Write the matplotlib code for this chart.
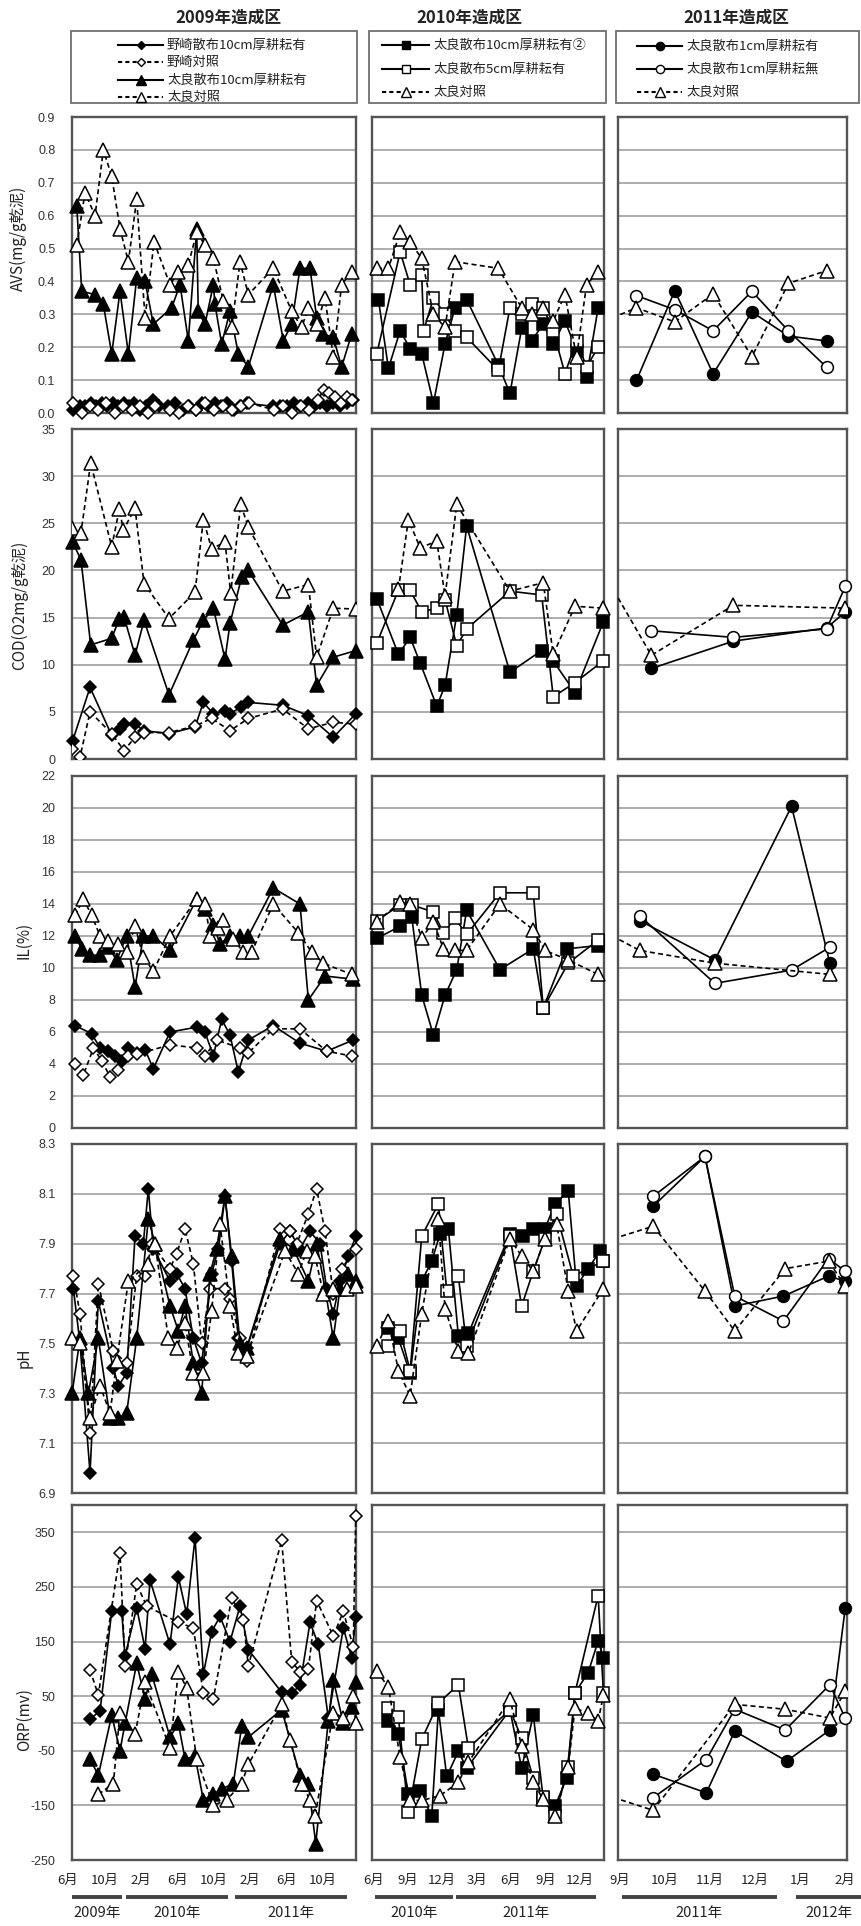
import matplotlib
matplotlib.use("Agg")
import matplotlib.pyplot as plt
from matplotlib.transforms import blended_transform_factory
from matplotlib.patches import Rectangle

plt.rcParams['font.family'] = ['Noto Sans CJK JP', 'DejaVu Sans']

# x は 2009年1月=0 とした月数（小数部分は月内の日付）
# ---------------- AVS (mg/g乾泥) ----------------
avs_nozaki = [(5.6,0.01),(6.3,0.02),(6.9,0.02),(7.5,0.03),(8.1,0.02),(8.7,0.03),(9.3,0.02),(9.9,0.03),
              (10.5,0.02),(11.1,0.03),(11.7,0.02),(12.3,0.03),(12.9,0.01),(13.6,0.02),(14.3,0.04),(15.0,0.02),
              (16.0,0.02),(16.8,0.03),(17.6,0.01),(18.3,0.02),(19.0,0.01),(19.7,0.03),(20.4,0.02),(21.1,0.03),
              (21.8,0.02),(22.5,0.03),(23.2,0.01),(23.9,0.02),(24.6,0.03),(27.5,0.02),(28.3,0.02),(29.0,0.02),
              (29.8,0.03),(30.5,0.02),(31.3,0.03),(32.0,0.02),(32.7,0.03),(33.4,0.02),(34.1,0.03),(34.9,0.02),
              (35.6,0.03),(36.3,0.04)]
avs_nozaki_ctrl = [(5.6,0.03),(6.5,0.0),(7.4,0.02),(8.3,0.01),(9.2,0.03),(10.2,0.0),(11.0,0.02),(12.0,0.01),
                   (12.9,0.02),(13.8,0.0),(14.6,0.02),(16.2,0.01),(17.2,0.0),(18.2,0.02),(19.1,0.01),(20.0,0.03),
                   (21.0,0.01),(22.0,0.02),(23.0,0.01),(24.0,0.02),(24.9,0.03),(27.6,0.01),(28.6,0.02),(29.6,0.0),
                   (30.6,0.02),(31.5,0.01),(32.4,0.04),(33.1,0.07),(33.7,0.06),(34.3,0.05),(35.0,0.03),(35.6,0.05),
                   (36.2,0.04)]
avs_tara10 = [(5.96,0.63),(6.51,0.37),(7.97,0.36),(8.88,0.33),(9.80,0.18),(10.71,0.37),(11.63,0.18),(12.54,0.41),
              (13.46,0.40),(14.37,0.27),(16.38,0.32),(17.30,0.39),(18.21,0.22),(19.13,0.56),(19.30,0.31),(20.04,0.27),
              (20.96,0.39),(21.14,0.33),(21.87,0.21),(22.79,0.31),(23.70,0.18),(24.80,0.14),(27.54,0.39),(28.64,0.22),
              (29.56,0.27),(30.47,0.44),(31.57,0.44),(32.30,0.29),(33.03,0.24),(34.13,0.23),(35.04,0.14),(36.14,0.24)]
avs_tara_ctrl09 = [(5.96,0.51),(6.87,0.67),(7.97,0.60),(8.88,0.80),(9.80,0.72),(10.71,0.56),(11.63,0.46),(12.54,0.65),
                   (13.46,0.29),(14.45,0.52),(16.20,0.39),(17.12,0.43),(18.21,0.45),(19.13,0.55),(20.04,0.51),(20.96,0.47),
                   (22.06,0.34),(22.97,0.26),(23.89,0.46),(24.80,0.36),(27.54,0.44),(29.56,0.31),(30.65,0.26),(31.39,0.32),
                   (32.30,0.27),(33.22,0.35),(34.13,0.17),(35.04,0.39),(36.14,0.43)]
avs_tara10b = [(17.46,0.345),(18.33,0.136),(19.35,0.25),(20.22,0.196),(21.23,0.18),(22.25,0.03),(23.26,0.21),(24.13,0.32),
               (25.14,0.345),(27.9,0.146),(28.91,0.06),(29.93,0.257),(30.8,0.22),(31.81,0.27),(32.68,0.21),(33.7,0.28),
               (34.71,0.19),(35.58,0.11),(36.59,0.32)]
avs_tara5 = [(17.32,0.18),(19.35,0.49),(20.22,0.39),(21.23,0.42),(21.4,0.25),(22.25,0.35),(23.26,0.30),(24.13,0.25),
             (25.14,0.23),(27.9,0.13),(28.91,0.32),(29.93,0.30),(30.8,0.33),(31.81,0.32),(32.68,0.25),(33.7,0.12),
             (34.71,0.22),(35.58,0.14),(36.59,0.20)]
avs_tara_ctrl10 = [(17.32,0.44),(18.33,0.44),(19.35,0.55),(20.22,0.52),(21.23,0.47),(22.25,0.30),(23.26,0.26),(24.13,0.46),
                   (27.9,0.44),(29.93,0.32),(30.8,0.30),(31.81,0.32),(32.68,0.28),(33.7,0.36),(34.71,0.17),(35.58,0.39),
                   (36.59,0.43)]
avs_tara1 = [(32.37,0.099),(33.22,0.372),(34.07,0.119),(34.93,0.307),(35.74,0.234),(36.59,0.219)]
avs_tara1n = [(32.37,0.357),(33.22,0.314),(34.07,0.25),(34.93,0.37),(35.74,0.25),(36.59,0.139)]
avs_tara_ctrl11 = [(31.5,0.27),(32.37,0.32),(33.22,0.277),(34.07,0.362),(34.93,0.171),(35.74,0.394),(36.59,0.433)]

# ---------------- COD (O2mg/g乾泥) ----------------
cod_nozaki = [(5.52,1.95),(7.42,7.6),(9.80,2.5),(10.71,3.2),(11.15,3.7),(12.36,3.7),(13.35,3.0),(16.09,2.7),
              (18.95,3.4),(19.86,6.0),(20.96,4.8),(22.24,5.1),(22.79,4.8),(23.96,5.5),(24.80,6.0),(28.57,5.7),
              (31.39,4.6),(34.13,2.3),(36.6,4.8)]
cod_nozaki_ctrl = [(5.41,1.1),(6.32,0.2),(7.42,5.0),(9.80,2.7),(11.15,0.9),(12.36,2.3),(13.35,2.8),(16.09,2.8),
                   (18.95,3.5),(20.77,4.3),(22.79,3.0),(24.80,4.3),(28.57,5.3),(31.39,3.2),(34.13,3.9),(36.6,3.7)]
cod_tara10 = [(5.52,23.0),(6.43,21.1),(7.49,12.1),(9.80,12.8),(10.64,14.9),(11.15,15.1),(12.36,11.0),(13.35,14.7),
              (16.09,6.8),(18.76,12.6),(19.86,14.7),(20.96,16.0),(22.24,10.6),(22.79,14.4),(24.07,19.3),(24.80,20.0),
              (28.57,14.2),(31.39,15.6),(32.30,7.8),(34.13,10.8),(36.6,11.5)]
cod_tara_ctrl09 = [(5.41,24.5),(6.43,24.0),(7.49,31.4),(9.80,22.5),(10.64,26.5),(11.08,24.3),(12.36,26.6),(13.35,18.6),
                   (16.09,14.9),(18.95,17.7),(19.86,25.4),(20.77,22.3),(22.24,23.0),(22.86,17.6),(23.96,27.0),(24.80,24.6),
                   (28.57,17.8),(31.39,18.5),(32.30,10.8),(34.13,16.0),(36.6,15.9)]
cod_tara10b = [(17.32,17.0),(19.2,11.1),(20.22,12.9),(21.09,10.2),(22.54,5.6),(23.26,7.8),(24.28,15.3),(25.14,24.7),
               (28.91,9.2),(31.67,11.5),(32.68,10.4),(34.57,7.05),(37.03,14.5)]
cod_tara5 = [(17.32,12.3),(19.2,17.9),(20.22,17.9),(21.23,15.6),(22.54,16.0),(23.26,16.9),(24.28,12.0),(25.14,13.8),
             (28.91,17.8),(31.67,17.4),(32.68,6.6),(34.57,8.1),(37.03,10.4)]
cod_tara_ctrl10 = [(19.2,18.0),(20.07,25.4),(21.09,22.4),(22.54,23.1),(23.26,17.3),(24.28,27.0),(28.91,17.8),(31.81,18.7),
                   (32.68,11.1),(34.57,16.2),(37.03,16.0)]
cod_tara1 = [(32.7,9.6),(34.52,12.5),(36.59,13.9),(37.0,15.6)]
cod_tara1n = [(32.7,13.6),(34.52,12.9),(36.59,13.8),(37.0,18.3)]
cod_tara_ctrl11 = [(31.5,20.9),(32.7,11.0),(34.52,16.3),(37.0,16.0)]

# ---------------- IL (%) ----------------
il_nozaki = [(5.77,6.4),(7.60,5.9),(8.52,5.0),(9.43,4.8),(10.16,4.5),(10.90,4.2),(11.63,5.0),(12.54,4.7),(13.46,4.9),
             (14.37,3.7),(16.20,6.0),(19.13,6.3),(20.04,6.0),(20.96,4.5),(21.87,6.8),(22.79,5.8),(23.70,3.5),(24.80,5.5),
             (27.54,6.4),(30.47,5.3),(33.40,4.8),(36.32,5.5)]
il_nozaki_ctrl = [(5.77,4.0),(6.69,3.3),(7.79,5.0),(8.70,4.2),(9.62,3.2),(10.53,3.6),(11.63,4.5),(12.54,4.6),(16.20,5.2),
                  (19.13,5.0),(20.04,4.5),(21.32,5.5),(23.89,5.0),(24.80,4.7),(27.54,6.2),(30.47,6.2),(33.40,4.8),(36.14,4.5)]
il_tara10 = [(5.77,12.0),(6.51,11.2),(7.42,10.8),(8.52,10.8),(9.43,11.3),(10.35,10.5),(11.44,12.0),(12.36,8.8),(13.27,12.0),
             (14.37,12.0),(16.20,11.1),(19.13,14.3),(20.04,13.7),(20.96,12.7),(21.69,11.5),(22.79,12.0),(23.89,12.0),
             (24.80,12.0),(27.54,15.0),(30.47,14.0),(31.39,8.0),(33.22,9.5),(36.32,9.3)]
il_tara_ctrl09 = [(5.77,13.3),(6.69,14.3),(7.60,13.3),(8.52,12.0),(9.43,11.7),(10.53,11.5),(11.44,11.0),(12.36,12.6),
                  (13.27,10.7),(14.37,9.8),(16.20,12.0),(19.13,14.3),(20.04,14.0),(20.59,12.0),(21.51,12.5),(22.06,13.0),
                  (23.15,11.8),(24.25,11.0),(25.17,11.0),(27.54,14.0),(30.29,12.2),(31.75,11.0),(33.03,10.3),(36.14,9.6)]
il_tara10b = [(17.32,11.86),(19.35,12.6),(20.36,13.2),(21.23,8.3),(22.25,5.8),(23.26,8.3),(24.28,9.9),(25.14,13.6),
              (28.04,9.9),(30.94,11.2),(31.81,7.5),(33.84,11.2),(36.59,11.4)]
il_tara5 = [(17.32,12.96),(19.35,13.94),(20.36,13.94),(22.25,13.5),(23.12,12.2),(24.13,13.1),(25.14,12.1),(28.04,14.7),
            (30.94,14.7),(31.81,7.5),(33.99,10.3),(36.59,11.75)]
il_tara_ctrl10 = [(17.32,12.9),(19.35,14.1),(20.22,14.0),(21.23,11.86),(22.25,12.9),(23.12,11.2),(24.13,11.1),(25.14,11.1),
                  (28.04,14.0),(30.94,12.4),(31.96,11.1),(33.99,10.5),(36.59,9.6)]
il_tara1 = [(32.44,12.96),(34.11,10.5),(35.81,20.1),(36.66,10.3)]
il_tara1n = [(32.44,13.26),(34.11,9.04),(35.81,9.87),(36.66,11.3)]
il_tara_ctrl11 = [(31.5,12.5),(32.44,11.1),(34.11,10.3),(36.66,9.6)]

# ---------------- pH ----------------
ph_nozaki = [(5.59,7.72),(6.32,7.5),(7.42,6.98),(8.33,7.67),(9.98,7.4),(10.53,7.33),(11.44,7.38),(12.36,7.93),(13.27,7.9),
             (13.82,8.12),(14.37,7.88),(16.20,7.75),(16.93,7.78),(17.85,7.72),(18.76,7.52),(19.68,7.42),(20.77,7.78),
             (21.51,7.88),(22.24,8.09),(22.97,7.83),(23.70,7.52),(24.62,7.48),(28.28,7.9),(29.37,7.95),(30.47,7.88),
             (31.57,7.95),(32.67,7.9),(33.40,7.72),(34.13,7.62),(34.86,7.75),(35.78,7.85),(36.6,7.93)]
ph_nozaki_ctrl = [(5.59,7.77),(6.32,7.62),(7.42,7.14),(8.33,7.74),(9.98,7.47),(11.44,7.42),(12.54,7.77),(13.46,7.77),
                  (14.19,7.9),(16.20,7.8),(16.93,7.86),(17.85,7.96),(18.76,7.82),(19.68,7.5),(20.59,7.72),(22.24,7.72),
                  (22.79,7.68),(23.89,7.52),(24.62,7.43),(28.28,7.96),(29.37,7.95),(30.11,7.9),(31.39,8.02),(32.30,8.12),
                  (33.22,7.95),(34.13,7.7),(35.04,7.8),(36.6,7.88)]
ph_tara10 = [(5.45,7.3),(6.32,7.52),(7.24,7.3),(8.33,7.52),(9.62,7.2),(10.53,7.2),(11.44,7.22),(12.54,7.52),(13.82,8.0),
             (14.56,7.9),(16.20,7.65),(17.12,7.55),(17.85,7.65),(18.76,7.42),(19.68,7.3),(20.59,7.78),(21.32,7.88),
             (22.24,8.09),(22.97,7.85),(23.89,7.5),(24.62,7.48),(28.28,7.92),(29.74,7.88),(31.39,7.75),(32.30,7.9),
             (33.22,7.72),(34.13,7.52),(34.86,7.72),(35.78,7.78),(36.6,7.75)]
ph_tara_ctrl09 = [(5.45,7.52),(6.32,7.5),(7.42,7.2),(8.52,7.33),(9.62,7.22),(10.35,7.43),(11.63,7.75),(13.82,7.82),
                  (14.56,7.9),(16.02,7.52),(16.93,7.48),(17.85,7.58),(18.76,7.38),(19.86,7.38),(20.77,7.63),(21.69,7.98),
                  (22.79,7.65),(23.70,7.46),(24.62,7.45),(28.83,7.87),(30.29,7.78),(31.20,7.87),(32.12,7.85),(33.03,7.7),
                  (34.13,7.72),(35.59,7.72),(36.6,7.73)]
ph_tara10b = [(18.33,7.56),(19.2,7.52),(20.22,7.38),(21.23,7.75),(22.1,7.83),(22.83,7.94),(23.55,7.96),(24.42,7.53),
              (25.29,7.54),(28.91,7.94),(30.07,7.93),(30.94,7.96),(31.96,7.96),(32.83,8.06),(33.99,8.11),(34.71,7.73),
              (35.72,7.8),(36.74,7.87),(37.05,7.83)]
ph_tara5 = [(18.33,7.49),(19.35,7.55),(20.22,7.39),(21.23,7.93),(22.68,8.06),(23.41,7.71),(24.42,7.77),(25.14,7.49),
            (28.91,7.93),(29.93,7.65),(30.94,7.79),(31.96,7.92),(32.97,8.02),(34.42,7.77),(37.05,7.83)]
ph_tara_ctrl10 = [(17.32,7.49),(18.33,7.59),(19.2,7.39),(20.22,7.29),(21.23,7.62),(22.68,8.0),(23.26,7.64),(24.42,7.47),
                  (25.29,7.46),(28.91,7.92),(29.93,7.85),(30.94,7.79),(31.96,7.92),(32.97,7.98),(33.99,7.71),(34.71,7.55),
                  (37.05,7.72)]
ph_tara1 = [(32.74,8.05),(33.89,8.25),(34.55,7.65),(35.63,7.69),(36.63,7.77),(37.0,7.75)]
ph_tara1n = [(32.74,8.09),(33.89,8.25),(34.55,7.69),(35.63,7.59),(36.63,7.84),(37.0,7.79)]
ph_tara_ctrl11 = [(31.5,7.9),(32.74,7.97),(33.89,7.71),(34.55,7.55),(35.67,7.8),(36.63,7.83),(37.0,7.73)]

# ---------------- ORP (mv) ----------------
orp_nozaki = [(7.42,8),(8.52,23),(9.80,205),(10.90,205),(11.26,123),(12.54,212),(13.46,137),(14.01,262),(16.20,145),
              (17.12,268),(18.03,200),(18.95,340),(19.86,90),(20.77,168),(21.69,196),(22.79,150),(23.89,215),(24.80,135),
              (28.46,57),(29.56,55),(30.47,70),(31.57,185),(32.48,145),(33.58,10),(35.23,175),(36.14,120),(36.6,195)]
orp_nozaki_ctrl = [(7.42,98),(8.33,52),(10.71,312),(11.26,105),(12.54,255),(13.64,215),(17.12,185),(18.76,175),(19.86,55),
                   (20.96,45),(22.97,230),(24.25,190),(24.80,105),(28.46,335),(29.56,113),(30.47,95),(31.39,100),
                   (32.30,225),(34.13,160),(35.23,205),(36.32,140),(36.6,380)]
orp_tara10 = [(7.42,-65),(8.33,-95),(9.80,15),(10.71,-50),(11.26,0),(12.54,110),(13.46,45),(14.19,90),(16.20,-25),
              (17.12,0),(17.85,-65),(18.95,-60),(19.86,-140),(20.96,-130),(21.87,-120),(23.15,-110),(24.07,-5),
              (24.80,-25),(28.46,25),(30.47,-95),(31.39,-110),(32.2,-220),(33.58,5),(34.13,80),(35.23,0),(36.14,30),
              (36.6,75)]
orp_tara_ctrl09 = [(8.33,-130),(9.98,-110),(10.71,20),(12.36,-20),(13.46,75),(16.20,-45),(17.12,95),(18.03,65),
                   (19.13,-65),(20.96,-150),(22.42,-140),(24.07,-110),(24.80,-75),(28.46,35),(29.37,-30),(30.65,-110),
                   (31.57,-140),(32.12,-170),(34.13,20),(35.23,10),(36.32,50),(36.6,0)]
orp_tara10b = [(18.33,4),(19.2,-20),(20.07,-130),(21.09,-124),(22.1,-170),(22.68,25),(23.41,-97),(24.42,-51),(25.14,-82),
               (28.91,25),(29.93,-82),(30.94,16),(31.81,-137),(32.83,-152),(33.84,-100),(34.57,56),(35.72,93),
               (36.59,151),(37.05,120)]
orp_tara5 = [(18.33,29),(19.2,11),(20.07,-163),(21.23,-29),(22.68,37),(24.42,71),(25.29,-45),(28.91,25),(29.93,-27),
             (30.94,-100),(31.81,-134),(32.83,-170),(33.99,-79),(34.57,56),(36.59,234),(37.05,56)]
orp_tara_ctrl10 = [(17.32,96),(18.33,66),(19.35,-62),(20.22,-141),(21.23,-141),(22.83,-132),(24.42,-108),(25.29,-71),
                   (28.91,44),(29.93,-41),(30.94,-108),(31.81,-139),(32.83,-170),(33.99,-79),(34.57,28),(35.72,19),
                   (36.59,4),(37.05,53)]
orp_tara1 = [(32.74,-93),(33.92,-127),(34.55,-14),(35.7,-69),(36.66,-12),(37.0,211)]
orp_tara1n = [(32.74,-136),(33.92,-66),(34.55,26),(35.67,-12),(36.66,71),(37.0,10)]
orp_tara_ctrl11 = [(31.5,-126),(32.74,-159),(34.55,35),(35.67,26),(36.66,10),(37.0,59)]

# ---------------- ラベル ----------------
col_titles = ['2009年造成区', '2010年造成区', '2011年造成区']
legend_names = [
    ['野崎散布10cm厚耕耘有', '野崎対照', '太良散布10cm厚耕耘有', '太良対照'],
    ['太良散布10cm厚耕耘有②', '太良散布5cm厚耕耘有', '太良対照'],
    ['太良散布1cm厚耕耘有', '太良散布1cm厚耕耘無', '太良対照'],
]
ylabels = ['AVS(mg/g乾泥)', 'COD(O2mg/g乾泥)', 'IL(%)', 'pH', 'ORP(mv)']
month_pos = [[5, 9, 13, 17, 21, 25, 29, 33], [17, 20, 23, 26, 29, 32, 35], [32, 33, 34, 35, 36, 37]]
month_lab = [['6月', '10月', '2月', '6月', '10月', '2月', '6月', '10月'],
             ['6月', '9月', '12月', '3月', '6月', '9月', '12月'],
             ['9月', '10月', '11月', '12月', '1月', '2月']]
year_spans = [[('2009年', 5.44, 10.93), ('2010年', 11.37, 22.57), ('2011年', 23.34, 35.63)],
              [('2010年', 17.17, 23.96), ('2011年', 24.22, 36.39)],
              [('2011年', 32.04, 35.49), ('2012年', 35.91, 37.36)]]

# ---------------- スタイル ----------------
st = {
    'nozaki':    dict(ls='-',  marker='D', mfc='black', ms=6.5),
    'nozaki_c':  dict(ls='--', marker='D', mfc='white', ms=6.5),
    'tara10':    dict(ls='-',  marker='^', mfc='black', ms=10),
    'tara_c':    dict(ls='--', marker='^', mfc='white', ms=10),
    'tara10b':   dict(ls='-',  marker='s', mfc='black', ms=8),
    'tara5':     dict(ls='-',  marker='s', mfc='white', ms=8),
    'tara1':     dict(ls='-',  marker='o', mfc='black', ms=8.5),
    'tara1n':    dict(ls='-',  marker='o', mfc='white', ms=8.5),
}
col_keys = [['nozaki', 'nozaki_c', 'tara10', 'tara_c'],
            ['tara10b', 'tara5', 'tara_c'],
            ['tara1', 'tara1n', 'tara_c']]

panels = [
    [[avs_nozaki, avs_nozaki_ctrl, avs_tara10, avs_tara_ctrl09], [avs_tara10b, avs_tara5, avs_tara_ctrl10],
     [avs_tara1, avs_tara1n, avs_tara_ctrl11]],
    [[cod_nozaki, cod_nozaki_ctrl, cod_tara10, cod_tara_ctrl09], [cod_tara10b, cod_tara5, cod_tara_ctrl10],
     [cod_tara1, cod_tara1n, cod_tara_ctrl11]],
    [[il_nozaki, il_nozaki_ctrl, il_tara10, il_tara_ctrl09], [il_tara10b, il_tara5, il_tara_ctrl10],
     [il_tara1, il_tara1n, il_tara_ctrl11]],
    [[ph_nozaki, ph_nozaki_ctrl, ph_tara10, ph_tara_ctrl09], [ph_tara10b, ph_tara5, ph_tara_ctrl10],
     [ph_tara1, ph_tara1n, ph_tara_ctrl11]],
    [[orp_nozaki, orp_nozaki_ctrl, orp_tara10, orp_tara_ctrl09], [orp_tara10b, orp_tara5, orp_tara_ctrl10],
     [orp_tara1, orp_tara1n, orp_tara_ctrl11]],
]

ylims = [(0, 0.9), (0, 35), (0, 22), (6.9, 8.3), (-250, 400)]
yticks = [[i / 10 for i in range(10)], list(range(0, 36, 5)), list(range(0, 23, 2)),
          [6.9, 7.1, 7.3, 7.5, 7.7, 7.9, 8.1, 8.3], list(range(-250, 351, 100))]
yfmt = ['{:.1f}', '{:d}', '{:d}', '{:.1f}', '{:d}']

W, H = 861, 1926
fig = plt.figure(figsize=(W / 100, H / 100), dpi=100)
cols = [(72, 356), (372, 604), (618, 847)]
rows = [(117, 413), (429, 759), (776, 1128), (1144, 1493), (1505, 1860)]
xlims = [(5.44, 36.62), (16.9, 37.1), (31.96, 37.04)]
ylab_pos = [(18, 238), (20, 605), (24, 940), (24, 1358), (24, 1720)]

frame_c = '#555555'
grid_c = '#a0a0a0'

axes = {}
for r, (top, bot) in enumerate(rows):
    for c, (left, right) in enumerate(cols):
        ax = fig.add_axes([left / W, 1 - bot / H, (right - left) / W, (bot - top) / H])
        axes[(r, c)] = ax
        ax.set_xlim(*xlims[c])
        ax.set_ylim(*ylims[r])
        ax.set_yticks(yticks[r])
        for v in yticks[r]:
            ax.axhline(v, color=grid_c, lw=1.2, zorder=1)
        if r == 4:
            ax.axhline(0, color=grid_c, lw=1.2, zorder=1)
        ax.set_xticks([])
        ax.tick_params(axis='y', length=0, pad=12, labelsize=9, labelcolor='#333333')
        if c == 0:
            ax.set_yticklabels([yfmt[r].format(v) for v in yticks[r]], family='Liberation Sans')
        else:
            ax.set_yticklabels([])
        for sp in ax.spines.values():
            sp.set_color(frame_c)
            sp.set_linewidth(1.7)
        lo, hi = xlims[c]
        for series, key in zip(panels[r][c], col_keys[c]):
            xs = [p[0] for p in series]
            ys = [p[1] for p in series]
            s = st[key]
            clip = any(x < lo for x in xs)
            ax.plot(xs, ys, color='black', lw=1.2, ls=s['ls'], dashes=(3, 2) if s['ls'] == '--' else (None, None),
                    marker=s['marker'], ms=s['ms'], mfc=s['mfc'], mec='black', mew=1.1,
                    clip_on=clip, zorder=3)

    fig.text(ylab_pos[r][0] / W, 1 - ylab_pos[r][1] / H, ylabels[r], rotation=90,
             ha='center', va='center', fontsize=11, color='#222222')

# 下部の月・年ラベル
for c in range(3):
    ax = axes[(4, c)]
    tr = blended_transform_factory(ax.transData, ax.transAxes)
    for m, lab in zip(month_pos[c], month_lab[c]):
        ax.annotate(lab, xy=(m, 0), xycoords=tr, xytext=(0, -14.5), textcoords='offset points',
                    ha='center', va='center', fontsize=9.5, color='#222222', annotation_clip=False)
    for lab, a, b in year_spans[c]:
        ax.plot([a, b], [-0.104, -0.104], transform=tr, clip_on=False, color='#444444', lw=2.8,
                solid_capstyle='butt')
        ax.annotate(lab, xy=((a + b) / 2, 0), xycoords=tr, xytext=(0, -38.5), textcoords='offset points',
                    ha='center', va='center', fontsize=10.5, color='#222222', annotation_clip=False)

# 上部の見出しと凡例（ピクセル座標のオーバーレイ）
ov = fig.add_axes([0, 0, 1, 1], zorder=-1)
ov.set_xlim(0, W)
ov.set_ylim(H, 0)
ov.axis('off')

title_x = [228, 469, 736]
for c in range(3):
    ov.text(title_x[c], 18, col_titles[c], ha='center', va='center', fontsize=12, fontweight='bold',
            color='#222222')

leg_boxes = [(71, 31, 357, 103), (369, 31, 606, 103), (616, 31, 859, 103)]
leg_rows = [[45, 62, 80, 97], [45, 69, 92], [46, 69, 92]]
leg_line = [(118, 163), (382, 429), (637, 682)]
for c in range(3):
    x0, y0, x1, y1 = leg_boxes[c]
    ov.add_patch(Rectangle((x0, y0), x1 - x0, y1 - y0, fill=False, ec='#707070', lw=1.3))
    la, lb = leg_line[c]
    for y, key, name in zip(leg_rows[c], col_keys[c], legend_names[c]):
        s = st[key]
        ov.plot([la, lb], [y, y], color='black', lw=1.5, ls=s['ls'],
                dashes=(2, 1.5) if s['ls'] == '--' else (None, None))
        ov.plot([(la + lb) / 2], [y], marker=s['marker'], ms=s['ms'] * 0.7, mfc=s['mfc'], mec='black',
                mew=1.0, color='black')
        ov.text(lb + 4, y, name, ha='left', va='center', fontsize=9.5, color='#222222')

fig.savefig('out.png', dpi=100)
